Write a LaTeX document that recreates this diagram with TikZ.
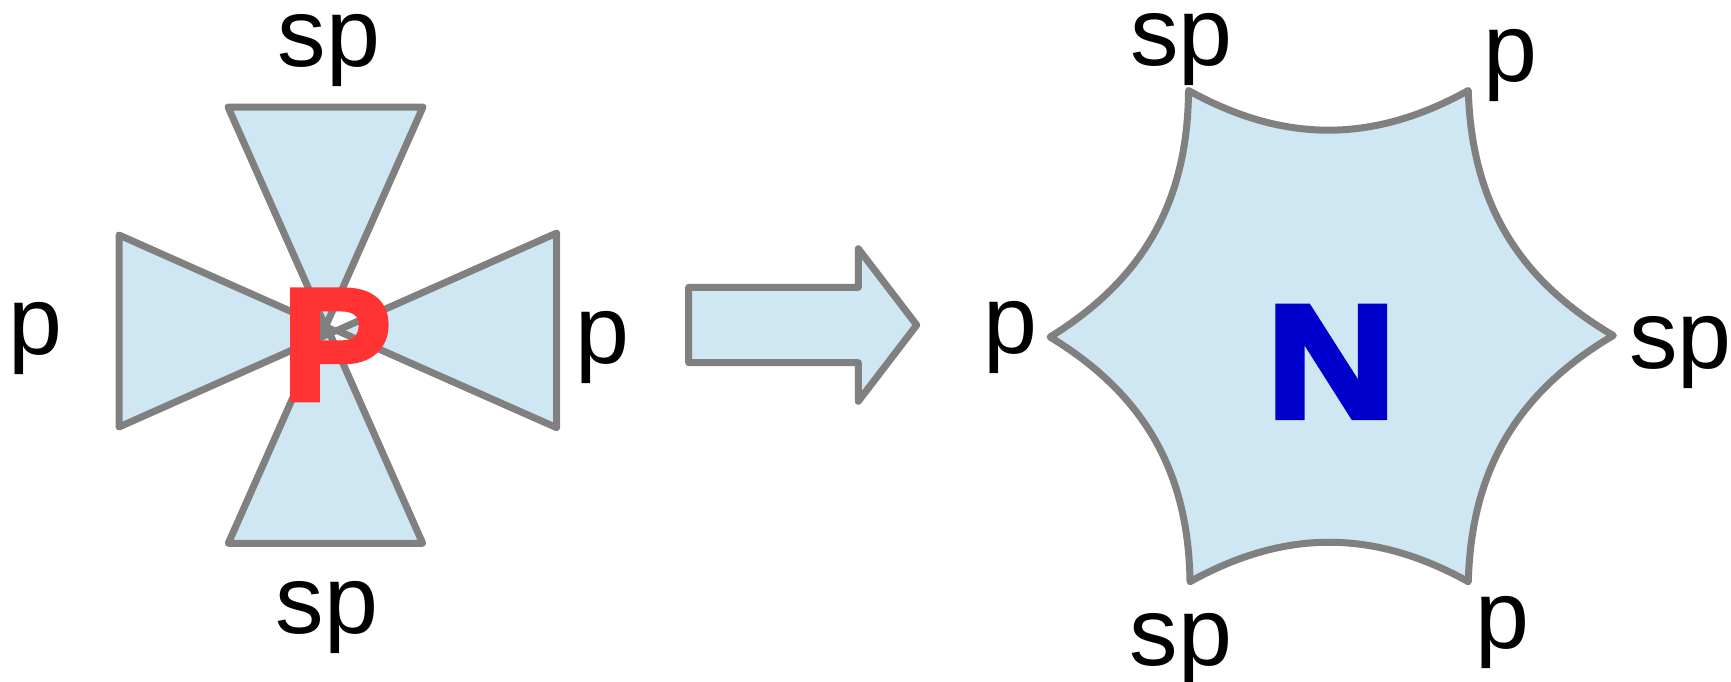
\documentclass[tikz,border=0pt]{standalone}
\usepackage{fontspec}
\setmainfont{Liberation Sans}
\newfontfamily\heavyfont[FakeBold=4,FakeStretch=1.12]{Liberation Sans Bold}
\newfontfamily\heavyfontP[FakeBold=4,FakeStretch=1.03]{Liberation Sans Bold}
\definecolor{fillblue}{RGB}{207,230,243}
\definecolor{edgegray}{RGB}{128,128,128}
\definecolor{pred}{RGB}{255,51,51}
\definecolor{nblue}{RGB}{0,0,204}
\tikzset{
  shapefill/.style={fill=fillblue},
  shapeedge/.style={draw=edgegray, line width=7pt, line join=round},
  shapeboth/.style={fill=fillblue, draw=edgegray, line width=7pt, line join=round},
  lbl/.style={font=\fontsize{97}{100}\selectfont, anchor=base, inner sep=0pt},
  bigletter/.style={font=\heavyfont\fontsize{160}{160}\selectfont, anchor=base, inner sep=0pt},
  bigletterP/.style={font=\heavyfontP\fontsize{158}{158}\selectfont, anchor=base, inner sep=0pt},
}
\begin{document}
\begin{tikzpicture}[x=1pt,y=-1pt]
\useasboundingbox (0,0) rectangle (1731,681);
% left figure: four triangles
\coordinate (tA) at (228,107);   \coordinate (tB) at (423,107);   \coordinate (tC) at (325.5,326.6);
\coordinate (bA) at (228.3,543.3); \coordinate (bB) at (422.7,543.3); \coordinate (bC) at (325.5,324);
\coordinate (lA) at (119,235);   \coordinate (lB) at (119,427);   \coordinate (lC) at (335,331);
\coordinate (rA) at (556.7,233); \coordinate (rB) at (556.7,427.7); \coordinate (rC) at (337,330.5);
\fill[shapefill] (tA) -- (tB) -- (tC) -- cycle;
\fill[shapefill] (bA) -- (bB) -- (bC) -- cycle;
\fill[shapefill] (lA) -- (lB) -- (lC) -- cycle;
\fill[shapefill] (rA) -- (rB) -- (rC) -- cycle;
\draw[shapeedge] (tA) -- (tB) -- (tC) -- cycle;
\draw[shapeedge] (bA) -- (bB) -- (bC) -- cycle;
\draw[shapeedge] (lA) -- (lB) -- (lC) -- cycle;
\draw[shapeedge] (rA) -- (rB) -- (rC) -- cycle;
\node[bigletterP, text=pred] (P) at (336.7,399.3) {P};
\node[lbl] (ltop) at (329.2,66.7) {sp};
\node[lbl] (lbot) at (327,633.3) {sp};
\node[lbl] (lleft) at (35.8,354) {p};
\node[lbl] (lright) at (602.5,363.3) {p};
% block arrow
\draw[shapeboth] (688.7,287.3) -- (858.3,287.3) -- (858.3,248.7) -- (916.7,325) -- (858.3,401.3) -- (858.3,362.7) -- (688.7,362.7) -- cycle;
% right figure: concave hexagon
\coordinate (hTL) at (1188.5,90.5);
\coordinate (hTR) at (1468.3,90.5);
\coordinate (hR) at (1613.3,335.5);
\coordinate (hBR) at (1468.3,581.7);
\coordinate (hBL) at (1190,581.7);
\coordinate (hL) at (1050,337);
\draw[shapeboth] (hTL) to[bend right=29] (hTR) to[bend right=29] (hR) to[bend right=29] (hBR)
  to[bend right=29] (hBL) to[bend right=29] (hL) to[bend right=29] (hTL) -- cycle;
\node[bigletter, text=nblue] (N) at (1331.3,417) {N};
\node[lbl] (htl) at (1181.7,65) {sp};
\node[lbl] (htr) at (1510,81.7) {p};
\node[lbl] (hl) at (1010.8,353.3) {p};
\node[lbl] (hr) at (1680.5,368.3) {sp};
\node[lbl] (hbl) at (1180.8,665) {sp};
\node[lbl] (hbr) at (1502,648.3) {p};
\end{tikzpicture}
\end{document}
